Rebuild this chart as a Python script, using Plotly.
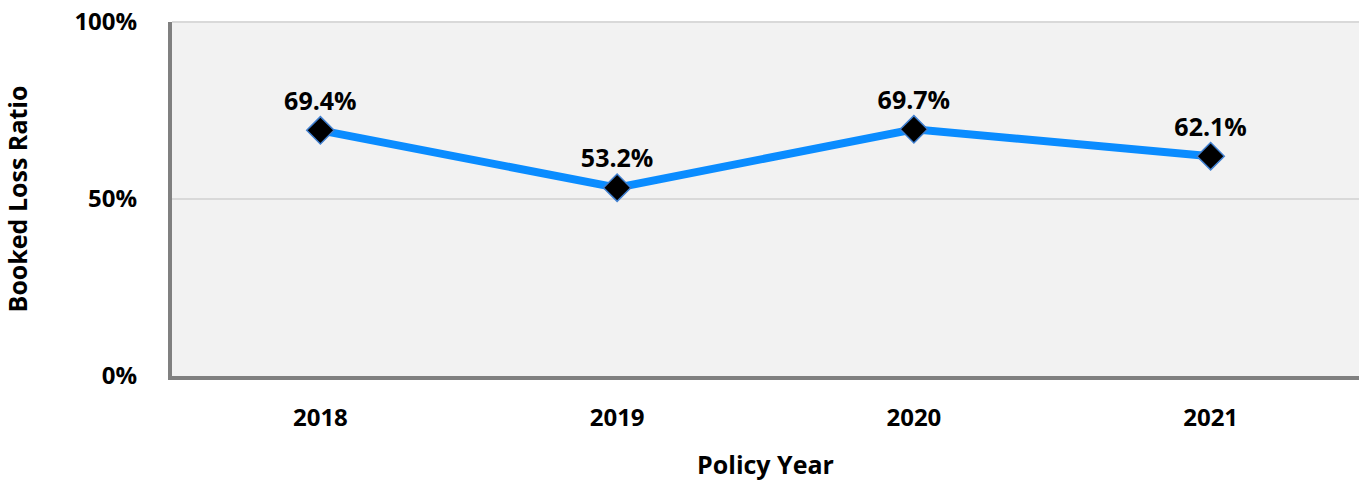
import plotly.graph_objects as go

years = ["2018", "2019", "2020", "2021"]
loss_ratio = [69.4, 53.2, 69.7, 62.1]
labels = ["69.4%", "53.2%", "69.7%", "62.1%"]
y_ticks = [0, 50, 100]
y_tick_text = ["0%", "50%", "100%"]

FONT = "Open Sans"

fig = go.Figure()
fig.add_trace(go.Scatter(
    x=years, y=loss_ratio,
    mode="lines+markers+text",
    text=labels, textposition="top center",
    textfont=dict(family=FONT, size=25, color="black", weight="bold"),
    line=dict(color="#0A8CFF", width=8),
    marker=dict(symbol="diamond", size=21, color="black",
                line=dict(color="#3F7FD0", width=1.5)),
    cliponaxis=False,
))

fig.update_layout(
    width=1359, height=481,
    margin=dict(l=172, r=0, t=22, b=105),
    paper_bgcolor="white",
    plot_bgcolor="#F2F2F2",
    showlegend=False,
    font=dict(family=FONT, color="black"),
    xaxis=dict(
        type="category", range=[-0.5, 3.5],
        showgrid=False, showline=True, linecolor="#808080", linewidth=4,
        ticks="", ticklabelstandoff=17,
        tickfont=dict(family=FONT, size=24, weight="bold"),
        title=dict(text="Policy Year", font=dict(family=FONT, size=25, weight="bold"), standoff=26),
    ),
    yaxis=dict(
        range=[0, 100], tickvals=y_ticks, ticktext=y_tick_text,
        showgrid=True, gridcolor="#D9D9D9", gridwidth=1.5,
        showline=True, linecolor="#808080", linewidth=4,
        zeroline=False, ticks="", ticklabelstandoff=26,
        tickfont=dict(family=FONT, size=24, weight="bold"),
        title=dict(text="Booked Loss Ratio", font=dict(family=FONT, size=25, weight="bold"), standoff=44),
    ),
)
fig.add_shape(type="line", xref="paper", yref="paper", x0=0, x1=1, y0=1, y1=1,
              line=dict(color="#D9D9D9", width=2))

fig.write_html("out.html", config={"displayModeBar": False},
               post_script="document.body.style.margin='0px';")
